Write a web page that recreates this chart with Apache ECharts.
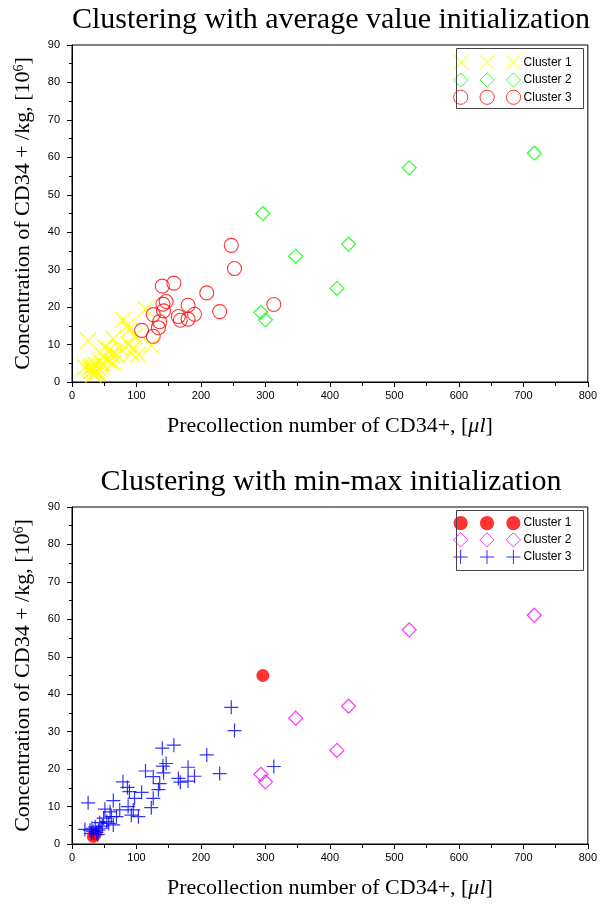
<!DOCTYPE html>
<html>
<head>
<meta charset="utf-8">
<script src="https://cdn.jsdelivr.net/npm/echarts@6/dist/echarts.min.js"></script>
<style>html,body{margin:0;padding:0;background:#fff;}#chart{width:600px;height:905px;}</style>
</head>
<body>
<div id="chart"></div>
<script>
// ---- Data (Precollection number of CD34+ [µl], Concentration of CD34+/kg [10^6]) ----
// low / dense group of points
var lowGroup = [
  [114,19.5],[79,16.6],[86,15.1],[89,14.0],[97,12.2],[25,11.0],[64,11.6],[87,10.0],
  [123,9.7],[51,9.3],[95,9.1],[59,8.6],[92,7.7],[61,7.3],[49,6.9],[64,5.1],[43,5.7],
  [36,4.6],[28,3.7],[20,3.9],[41,3.7],[33,3.3],[54,6.0],[69,7.3],[74,9.1],[103,7.3],
  [30,2.8],[38,3.0],[45,4.2],[57,5.5],[47,4.8],[31,4.2],[40,2.5]
];
// points near the origin (cluster 1 in min-max run)
var originPair = [[33,2.0],[36,2.6]];
// middle group
var midGroup = [
  [247,36.5],[252,30.3],[158,26.4],[140,25.6],[209,23.8],[313,20.7],[180,20.5],[146,21.5],
  [141,20.8],[229,18.8],[126,18.0],[142,19.0],[165,17.5],[190,18.1],[180,16.8],[168,16.5],
  [136,16.1],[134,14.5],[108,13.8],[126,12.2]
];
// high group
var highGroup = [[717,61.1],[523,57.2],[429,36.8],[347,33.6],[411,25.0],[293,18.6],[300,16.6]];
var outlier = [[296,45.0]];

// clustering with average value initialization
var avgCluster1 = lowGroup.concat(originPair);
var avgCluster2 = highGroup.concat(outlier);
var avgCluster3 = midGroup;
// clustering with min-max initialization
var mmCluster1 = outlier.concat(originPair);
var mmCluster2 = highGroup;
var mmCluster3 = lowGroup.concat(midGroup);

var xTicks = {min:0, max:800, interval:100};
var yTicks = {min:0, max:90, interval:10};
var titles = ['Clustering with average value initialization', 'Clustering with min-max initialization'];
var seriesNames = ['Cluster 1', 'Cluster 2', 'Cluster 3'];

// ---- Styles ----
var SERIF = '"Liberation Serif", "Times New Roman", serif';
var SANS = '"Liberation Sans", Arial, sans-serif';
var X_PATH = 'path://M0,0L10,10M10,0L0,10';
var PLUS_PATH = 'path://M5,0L5,10M0,5L10,5';
var X3 = 'path://M0.5,0.5L15.5,15.5M15.5,0.5L0.5,15.5M26,0.5L41,15.5M41,0.5L26,15.5M51.5,0.5L66.5,15.5M66.5,0.5L51.5,15.5';
var D3 = 'path://M7.5,0.5L14.5,7.5L7.5,14.5L0.5,7.5ZM33.5,0.5L40.5,7.5L33.5,14.5L26.5,7.5ZM59.5,0.5L66.5,7.5L59.5,14.5L52.5,7.5Z';
var C3 = 'path://M0.5,7.5A7,7,0,1,0,14.5,7.5A7,7,0,1,0,0.5,7.5ZM26.5,7.5A7,7,0,1,0,40.5,7.5A7,7,0,1,0,26.5,7.5ZM52.5,7.5A7,7,0,1,0,66.5,7.5A7,7,0,1,0,52.5,7.5Z';
var P3 = 'path://M7.5,0.5L7.5,14.5M0.5,7.5L14.5,7.5M33.5,0.5L33.5,14.5M26.5,7.5L40.5,7.5M59.5,0.5L59.5,14.5M52.5,7.5L66.5,7.5';

function stroke(c, w){ return {color:'transparent', borderColor:c, borderWidth:w || 1}; }

function xAxisFor(i){
  return {
    gridIndex:i, type:'value', min:xTicks.min, max:xTicks.max, interval:xTicks.interval,
    name:'Precollection number of CD34+, [{i|μl}]', nameLocation:'middle', nameGap:33,
    nameTextStyle:{fontFamily:SERIF, fontSize:22, color:'#000',
      rich:{i:{fontFamily:SERIF, fontSize:22, fontStyle:'italic', color:'#000'}}},
    axisLine:{show:true, onZero:false, lineStyle:{color:'#000', width:1}},
    axisTick:{show:true, inside:false, length:5, lineStyle:{color:'#000'}},
    minorTick:{show:true, splitNumber:2, length:4, lineStyle:{color:'#000'}},
    splitLine:{show:false},
    axisLabel:{fontFamily:SANS, fontSize:11, color:'#000', margin:8}
  };
}
function yAxisFor(i){
  return {
    gridIndex:i, type:'value', min:yTicks.min, max:yTicks.max, interval:yTicks.interval,
    name:'Concentration of CD34 + /kg, [10{s|6}]', nameLocation:'middle', nameGap:38, nameRotate:90,
    nameTextStyle:{fontFamily:SERIF, fontSize:22, color:'#000',
      rich:{s:{fontFamily:SERIF, fontSize:14, color:'#000', verticalAlign:'top'}}},
    axisLine:{show:true, onZero:false, lineStyle:{color:'#000', width:1}},
    axisTick:{show:true, inside:false, length:5, lineStyle:{color:'#000'}},
    minorTick:{show:true, splitNumber:2, length:3, lineStyle:{color:'#000'}},
    splitLine:{show:false},
    axisLabel:{fontFamily:SANS, fontSize:11, color:'#000', margin:12}
  };
}

function legendFor(top, names, icons, styles){
  return {orient:'vertical', left:453, top:top, padding:0, itemGap:2, itemWidth:67, itemHeight:16,
    selectedMode:false, textStyle:{fontFamily:SANS, fontSize:12, color:'#000', padding:[0,0,0,-2]},
    formatter:function(n){ return n.trim(); },
    data:names.map(function(n, k){ return {name:n, icon:icons[k], itemStyle:styles[k]}; })};
}

var option = {
  backgroundColor:'#fff',
  animation:false,
  title: titles.map(function(t, i){
    return {text:t, left:331, textAlign:'center', top: i === 0 ? 5 : 467, padding:0,
      textStyle:{fontFamily:SERIF, fontSize:30, fontWeight:'normal', color:'#000'}};
  }),
  grid:[
    {left:72, top:45, width:517, height:337, show:true, borderColor:'#000', borderWidth:1, backgroundColor:'transparent'},
    {left:72, top:507, width:517, height:337, show:true, borderColor:'#000', borderWidth:1, backgroundColor:'transparent'}
  ],
  xAxis:[xAxisFor(0), xAxisFor(1)],
  yAxis:[yAxisFor(0), yAxisFor(1)],
  legend:[
    legendFor(54, seriesNames, [X3, D3, C3],
      [stroke('#FFFF00', 1.2), stroke('#00FF00'), stroke('#FF0000')]),
    legendFor(516, seriesNames.map(function(n){ return n + ' '; }), [C3, D3, P3],
      [{color:'#FF0000', borderWidth:0}, stroke('#FF00FF'), stroke('#0000FF')])
  ],
  graphic:[
    {type:'rect', shape:{x:456.5, y:48.5, width:127, height:60}, style:{fill:'none', stroke:'#444', lineWidth:1}, z:100},
    {type:'rect', shape:{x:456.5, y:510.5, width:127, height:60}, style:{fill:'none', stroke:'#444', lineWidth:1}, z:100}
  ],
  series:[
    {name:seriesNames[0], type:'scatter', xAxisIndex:0, yAxisIndex:0, data:avgCluster1,
     symbol:X_PATH, symbolSize:16, itemStyle:stroke('#FFFF00', 1.5)},
    {name:seriesNames[1], type:'scatter', xAxisIndex:0, yAxisIndex:0, data:avgCluster2,
     symbol:'diamond', symbolSize:14, itemStyle:stroke('#00FF00', 1.2)},
    {name:seriesNames[2], type:'scatter', xAxisIndex:0, yAxisIndex:0, data:avgCluster3,
     symbol:'circle', symbolSize:14, itemStyle:stroke('#FF0000', 1.1)},
    {name:seriesNames[0]+' ', type:'scatter', xAxisIndex:1, yAxisIndex:1, data:mmCluster1,
     symbol:'circle', symbolSize:13, itemStyle:{color:'#FF0000'}},
    {name:seriesNames[1]+' ', type:'scatter', xAxisIndex:1, yAxisIndex:1, data:mmCluster2,
     symbol:'diamond', symbolSize:14, itemStyle:stroke('#FF00FF', 1.2)},
    {name:seriesNames[2]+' ', type:'scatter', xAxisIndex:1, yAxisIndex:1, data:mmCluster3,
     symbol:PLUS_PATH, symbolSize:14, itemStyle:stroke('#0000FF', 1.2)}
  ]
};
var chart = echarts.init(document.getElementById('chart'), null, {renderer:'canvas'});
chart.setOption(option);
</script>
</body>
</html>
